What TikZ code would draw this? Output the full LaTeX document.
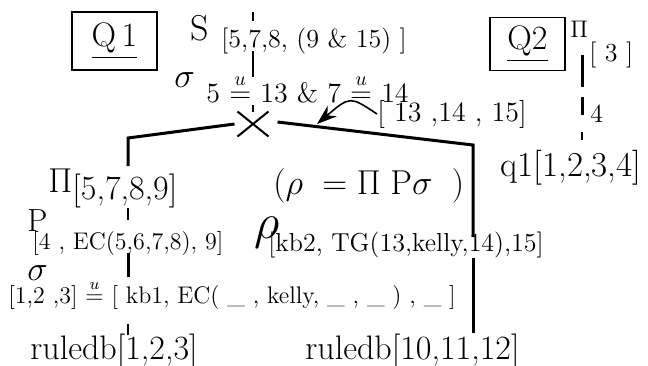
\documentclass[tikz,border=0pt]{standalone}
\usepackage{amsmath}
\usetikzlibrary{arrows.meta, shapes.misc}

\begin{document}
\begin{tikzpicture}[>=stealth, x=0.5pt, y=-0.5pt,
  txt/.style={inner sep=0pt, anchor=base west, font=\fontsize{16}{18}\selectfont},
  sub/.style={inner sep=0pt, anchor=base west, font=\fontsize{13}{15}\selectfont},
  qbox/.style={draw, line width=0.8pt, inner sep=0pt, font=\fontsize{17}{19}\selectfont},
  branch/.style={line width=1.5pt},
  tick/.style={line width=1.3pt}]
  \useasboundingbox (0,0) rectangle (648,365);
  % Query Q1
  \node[qbox, minimum width=42.5pt, minimum height=29pt] (q1box) at (114.5,41) {\underline{Q\,1}};
  \node[txt, font=\fontsize{18}{20}\selectfont] (sel) at (190,40) {S};
  \node[sub] (selsub) at (221,47) {[5,7,8, (9 \& 15) ]};
  \node[txt, font=\fontsize{18}{20}\selectfont] (sig) at (174,87) {$\sigma$};
  \node[sub, font=\fontsize{14}{16}\selectfont] (sigsub) at (206,102)
    {5 $\stackrel{u}{=}$ 13 \& 7 $\stackrel{u}{=}$ 14};
  \node[sub, font=\fontsize{14}{16}\selectfont] (res) at (377,121) {[ 13 ,14 , 15]};
  \node[cross out, draw, line width=1pt, minimum width=14.5pt, minimum height=11.5pt,
        inner sep=0pt] (join) at (253,124) {};
  \coordinate (t1) at (253,12);  \coordinate (t2) at (253,21);
  \coordinate (t3) at (253,51);  \coordinate (t4) at (253,77);
  \coordinate (t5) at (253,105); \coordinate (t6) at (253,112);
  \draw[tick] (t1) -- (t2);
  \draw[tick] (t3) -- (t4);
  \draw[tick] (t5) -- (t6);
  % left branch
  \coordinate (lcorner) at (128,138);
  \coordinate (lend) at (128,166);
  \draw[branch] ([xshift=-1.5pt]join.west) -- (lcorner) -- (lend);
  \node[txt, font=\fontsize{19}{21}\selectfont] (proj) at (48,192) {$\Pi$};
  \node[sub, font=\fontsize{17}{19}\selectfont] (projsub) at (72,199) {[5,7,8,9]};
  \coordinate (l1) at (128,208); \coordinate (l2) at (128,220);
  \draw[tick] (l1) -- (l2);
  \node[txt] (pp) at (27,231) {P};
  \node[sub, font=\fontsize{12}{14}\selectfont] (ppsub) at (32,249) {[4 , EC(5,6,7,8), 9]};
  \coordinate (l3) at (128,253); \coordinate (l4) at (128,277);
  \draw[branch] (l3) -- (l4);
  \node[txt, font=\fontsize{17}{19}\selectfont] (lsig) at (27,280) {$\sigma$};
  \node[sub, font=\fontsize{12}{14}\selectfont] (lsigsub) at (8,303)
    {[1,2 ,3] $\stackrel{u}{=}$ [ kb1, EC( \_ , kelly, \_ , \_ ) , \_ ]};
  \coordinate (l5) at (128,324); \coordinate (l6) at (128,335);
  \draw[tick] (l5) -- (l6);
  \node[txt, font=\fontsize{17}{19}\selectfont] (db1) at (30,359) {ruledb[1,2,3]};
  % right branch
  \coordinate (rcorner) at (473,145);
  \coordinate (r1) at (473,237);
  \coordinate (r2) at (473,258);
  \coordinate (r3) at (473,333);
  \draw[branch] ([xshift=4.5pt, yshift=1pt]join.east) -- (rcorner) -- (r1);
  \draw[branch] (r2) -- (r3);
  \coordinate (tip) at (317,124);
  \draw[-{Stealth[length=10pt, width=7pt]}, line width=0.8pt]
    (res.west) .. controls (350,96) .. (tip);
  \node[txt] (defn) at (273,194) {$(\rho\ = \Pi\ \mathrm{P}\sigma\ \ )$};
  \node[txt, font=\fontsize{30}{32}\selectfont] (rho) at (254,238) {$\rho$};
  \node[sub] (rhosub) at (268,251) {[kb2, TG(13,kelly,14),15]};
  \node[txt, font=\fontsize{17}{19}\selectfont] (db2) at (305,359) {ruledb[10,11,12]};
  % Query Q2
  \node[qbox, minimum width=37.5pt, minimum height=26.5pt] (q2box) at (527.5,44) {\underline{Q2}};
  \node[txt, font=\fontsize{13}{15}\selectfont] (proj2) at (570,37) {$\Pi$};
  \node[sub] (proj2sub) at (589,61) {[ 3 ]};
  \coordinate (s1) at (582,55);  \coordinate (s2) at (582,87);
  \coordinate (s3) at (582,97);  \coordinate (s4) at (582,115);
  \coordinate (s5) at (582,132); \coordinate (s6) at (582,140);
  \draw[branch] (s1) -- (s2);
  \draw[branch] (s3) -- (s4);
  \draw[tick] (s5) -- (s6);
  \node[sub] (four) at (590,122) {4};
  \node[txt, font=\fontsize{17.5}{19}\selectfont] (q1rel) at (500,176) {q1[1,2,3,4]};
\end{tikzpicture}
\end{document}
